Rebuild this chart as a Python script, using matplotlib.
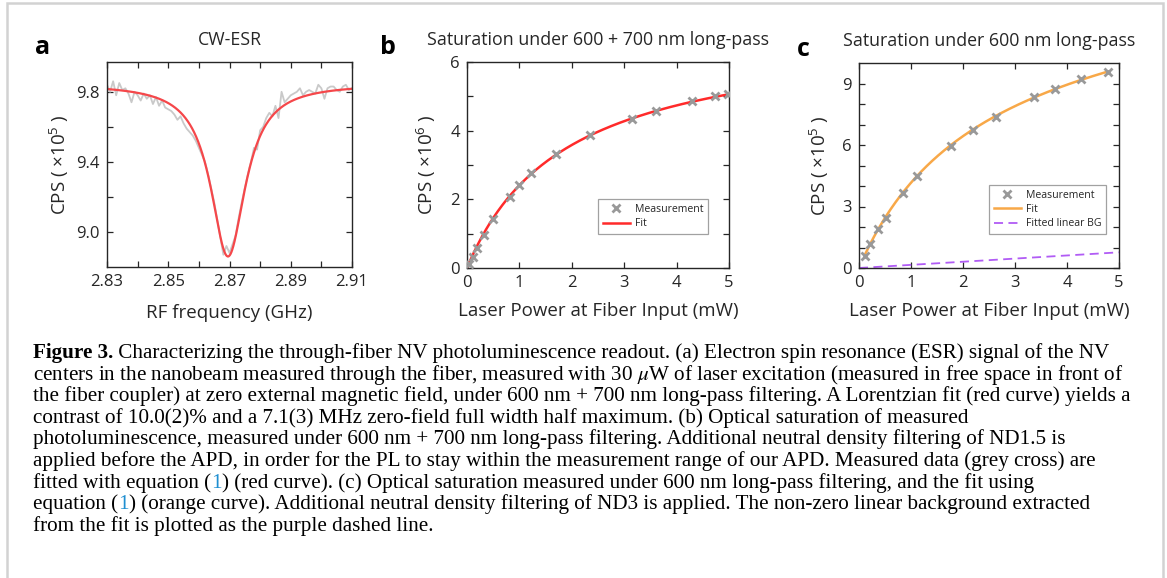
import numpy as np
import matplotlib
matplotlib.use("Agg")
import matplotlib.pyplot as plt
from matplotlib.patches import Rectangle

# ---------------- data ----------------
# panel a: CW-ESR measured trace (x1e5 CPS) vs RF frequency (GHz)
esr_freq_start = 2.830
esr_freq_step = 0.001
esr_counts = [
    9.84, 9.80, 9.86, 9.78, 9.85, 9.81, 9.82, 9.79, 9.74, 9.80,
    9.78, 9.75, 9.79, 9.76, 9.78, 9.73, 9.77, 9.72, 9.75, 9.71,
    9.70, 9.69, 9.67, 9.64, 9.66, 9.62, 9.59, 9.57, 9.55, 9.52,
    9.48, 9.44, 9.40, 9.33, 9.25, 9.17, 9.07, 8.97, 8.87, 8.92,
    8.88, 8.93, 8.98, 9.08, 9.17, 9.25, 9.33, 9.40, 9.48, 9.47,
    9.58, 9.60, 9.65, 9.68, 9.66, 9.72, 9.65, 9.80, 9.74, 9.76,
    9.78, 9.79, 9.80, 9.82, 9.78, 9.80, 9.81, 9.80, 9.79, 9.84,
    9.82, 9.76, 9.82, 9.83, 9.83, 9.81, 9.80, 9.83, 9.84, 9.81,
    9.82,
]
# Lorentzian fit parameters (baseline, depth, centre GHz, half width GHz)
esr_fit_base = 9.845
esr_fit_depth = 0.985
esr_fit_center = 2.8695
esr_fit_hwhm = 0.0069

# panel b: saturation, 600 + 700 nm long-pass (x1e6 CPS)
sat_b_power = [0.04, 0.11, 0.20, 0.32, 0.50, 0.82, 1.00, 1.22, 1.70, 2.35,
               3.14, 3.60, 4.30, 4.74, 4.98]
sat_b_counts = [0.12, 0.31, 0.58, 0.95, 1.43, 2.06, 2.41, 2.77, 3.32, 3.87,
                4.35, 4.57, 4.86, 5.01, 5.06]
sat_b_fit_amp = 6.98
sat_b_fit_psat = 1.896

# panel c: saturation, 600 nm long-pass (x1e5 CPS)
sat_c_power = [0.12, 0.22, 0.37, 0.51, 0.85, 1.12, 1.77, 2.19, 2.63, 3.37,
               3.76, 4.26, 4.78]
sat_c_counts = [0.60, 1.19, 1.90, 2.42, 3.65, 4.50, 5.94, 6.75, 7.39, 8.34,
                8.73, 9.20, 9.58]
sat_c_fit_amp = 13.0
sat_c_fit_psat = 2.244
sat_c_bg_slope = 0.153

# ---------------- style ----------------
W, H = 1167, 578
fig = plt.figure(figsize=(W / 100, H / 100), dpi=100)
SANS = ["Open Sans", "DejaVu Sans"]
TXT = "#262626"
plt.rcParams["font.family"] = SANS
plt.rcParams["mathtext.fontset"] = "custom"
plt.rcParams["mathtext.rm"] = "Open Sans"
plt.rcParams["mathtext.it"] = "Open Sans:italic"

RED = "#f5474a"
ORANGE = "#f8a848"
PURPLE = "#b15cf5"
GREY_M = "#999999"
GREY_T = "#c9c9c9"


def px_axes(l, t, r, b):
    return fig.add_axes([l / W, 1 - b / H, (r - l) / W, (b - t) / H])


def style(ax):
    ax.tick_params(direction="in", top=True, right=True, length=4,
                   width=0.9, colors=TXT, labelsize=12, pad=5)
    ax.tick_params(which="minor", direction="in", top=True, right=True,
                   length=4, width=0.9, colors=TXT)
    for s in ax.spines.values():
        s.set_color(TXT)
        s.set_linewidth(1.0)


def legend(ax, handles, labels, y0):
    leg = ax.legend(handles, labels, loc="lower left", bbox_to_anchor=(0.5, y0),
                    borderaxespad=0, fontsize=7.6, frameon=True, fancybox=False,
                    edgecolor="#8a8a8a", handlelength=2.6, handletextpad=0.45,
                    labelspacing=0.3, borderpad=0.45)
    leg.get_frame().set_linewidth(0.9)
    for t in leg.get_texts():
        t.set_color(TXT)


# frame around figure
fig.patches.append(Rectangle((7 / W, -0.05), (1163 - 7) / W, 1.05 - 3 / H,
                             transform=fig.transFigure, fill=False,
                             edgecolor="#d2d2d2", linewidth=1.8))

# ---------------- panel a ----------------
axa = px_axes(107, 62, 352, 267)
f = esr_freq_start + esr_freq_step * np.arange(len(esr_counts))
axa.plot(f, esr_counts, color=GREY_T, lw=1.3)
ff = np.linspace(2.83, 2.91, 600)
fit_a = esr_fit_base - esr_fit_depth * esr_fit_hwhm**2 / ((ff - esr_fit_center)**2 + esr_fit_hwhm**2)
axa.plot(ff, fit_a, color=RED, lw=1.6)
axa.set_xlim(2.83, 2.91)
axa.set_ylim(8.8, 9.97)
axa.set_xticks([2.83, 2.85, 2.87, 2.89, 2.91])
axa.set_xticks(np.arange(2.83, 2.9101, 0.01), minor=True)
axa.set_yticks([9.0, 9.4, 9.8])
axa.set_yticks([9.2, 9.6], minor=True)
axa.set_xticklabels(["2.83", "2.85", "2.87", "2.89", "2.91"])
axa.set_yticklabels(["9.0", "9.4", "9.8"])
style(axa)
axa.set_xlabel("RF frequency (GHz)", fontsize=13.5, color=TXT, labelpad=10)
axa.set_ylabel(r"CPS ( $\times10^{5}$ )", fontsize=13.5, color=TXT, labelpad=4)
axa.set_title("CW-ESR", fontsize=12.8, color=TXT, pad=12)

# ---------------- panel b ----------------
axb = px_axes(467, 62, 729, 268)
pb = np.linspace(0, 5, 400)
lb_fit, = axb.plot(pb, sat_b_fit_amp * pb / (pb + sat_b_fit_psat), color="#ff2a2a",
                   lw=1.8, zorder=2)
lb_pts, = axb.plot(sat_b_power, sat_b_counts, "x", color=GREY_M, ms=6, mew=2,
                   zorder=3)
axb.set_xlim(0, 5)
axb.set_ylim(0, 6)
axb.set_xticks(range(6))
axb.set_yticks([0, 2, 4, 6])
axb.set_yticks([1, 3, 5], minor=True)
style(axb)
axb.set_xlabel("Laser Power at Fiber Input (mW)", fontsize=13.5, color=TXT, labelpad=8)
axb.set_ylabel(r"CPS ( $\times10^{6}$ )", fontsize=13.5, color=TXT, labelpad=9)
axb.set_title("Saturation under 600 + 700 nm long-pass", fontsize=12.8,
              color=TXT, pad=12)
legend(axb, [lb_pts, lb_fit], ["Measurement", "Fit"], 0.165)

# ---------------- panel c ----------------
axc = px_axes(859, 63, 1119, 268)
pc = np.linspace(sat_c_power[0], sat_c_power[-1], 400)
pbg = np.linspace(0, 5, 50)
lc_fit, = axc.plot(pc, sat_c_fit_amp * pc / (pc + sat_c_fit_psat) + sat_c_bg_slope * pc,
                   color=ORANGE, lw=1.8, zorder=2)
lc_bg, = axc.plot(pbg, sat_c_bg_slope * pbg, color=PURPLE, lw=1.3, ls=(0, (5, 3)),
                  zorder=2)
lc_pts, = axc.plot(sat_c_power, sat_c_counts, "x", color=GREY_M, ms=6, mew=2,
                   zorder=3)
axc.set_xlim(0, 5)
axc.set_ylim(0, 10)
axc.set_xticks(range(6))
axc.set_yticks([0, 3, 6, 9])
axc.set_yticks([1, 2, 4, 5, 7, 8], minor=True)
style(axc)
axc.set_xlabel("Laser Power at Fiber Input (mW)", fontsize=13.5, color=TXT, labelpad=8)
axc.set_ylabel(r"CPS ( $\times10^{5}$ )", fontsize=13.5, color=TXT, labelpad=8.5)
axc.set_title("Saturation under 600 nm long-pass", fontsize=12.8, color=TXT, pad=12)
legend(axc, [lc_pts, lc_fit, lc_bg], ["Measurement", "Fit", "Fitted linear BG"], 0.166)

# panel letters
for x, y, s in [(35, 47, "a"), (380, 47, "b"), (797, 50, "c")]:
    fig.text(x / W, 1 - y / H, s, fontsize=18, fontweight="bold", color="black",
             va="center", ha="left")

# ---------------- caption ----------------
SERIF = ["Liberation Serif", "DejaVu Serif"]
CAP_FS = 15.2
cap_x = 33 / W
base0 = 358
step = 21.6
BLUE = "#1f8fd1"

lines = [
    [("Figure 3.", "bold", "black"),
     (" Characterizing the through-fiber NV photoluminescence readout. (a) Electron spin resonance (ESR) signal of the NV", "normal", "black")],
    [(r"centers in the nanobeam measured through the fiber, measured with 30 $\mu$W of laser excitation (measured in free space in front of", "normal", "black")],
    [("the fiber coupler) at zero external magnetic field, under 600 nm + 700 nm long-pass filtering. A Lorentzian fit (red curve) yields a", "normal", "black")],
    [("contrast of 10.0(2)% and a 7.1(3) MHz zero-field full width half maximum. (b) Optical saturation of measured", "normal", "black")],
    [("photoluminescence, measured under 600 nm + 700 nm long-pass filtering. Additional neutral density filtering of ND1.5 is", "normal", "black")],
    [("applied before the APD, in order for the PL to stay within the measurement range of our APD. Measured data (grey cross) are", "normal", "black")],
    [("fitted with equation (", "normal", "black"), ("1", "normal", BLUE),
     (") (red curve). (c) Optical saturation measured under 600 nm long-pass filtering, and the fit using", "normal", "black")],
    [("equation (", "normal", "black"), ("1", "normal", BLUE),
     (") (orange curve). Additional neutral density filtering of ND3 is applied. The non-zero linear background extracted", "normal", "black")],
    [("from the fit is plotted as the purple dashed line.", "normal", "black")],
]

for i, pieces in enumerate(lines):
    y = 1 - (base0 + i * step) / H
    prev = None
    for s, w, c in pieces:
        kw = dict(fontsize=CAP_FS, family=SERIF, fontweight=w, color=c,
                  math_fontfamily="stix", ha="left")
        if prev is None:
            prev = fig.text(cap_x, y, s, va="baseline", **kw)
        else:
            prev = plt.annotate(s, xy=(1, 0), xycoords=prev, xytext=(0, 0),
                                textcoords="offset points", annotation_clip=False,
                                va="bottom", **kw)

fig.savefig("out.png", dpi=100)
